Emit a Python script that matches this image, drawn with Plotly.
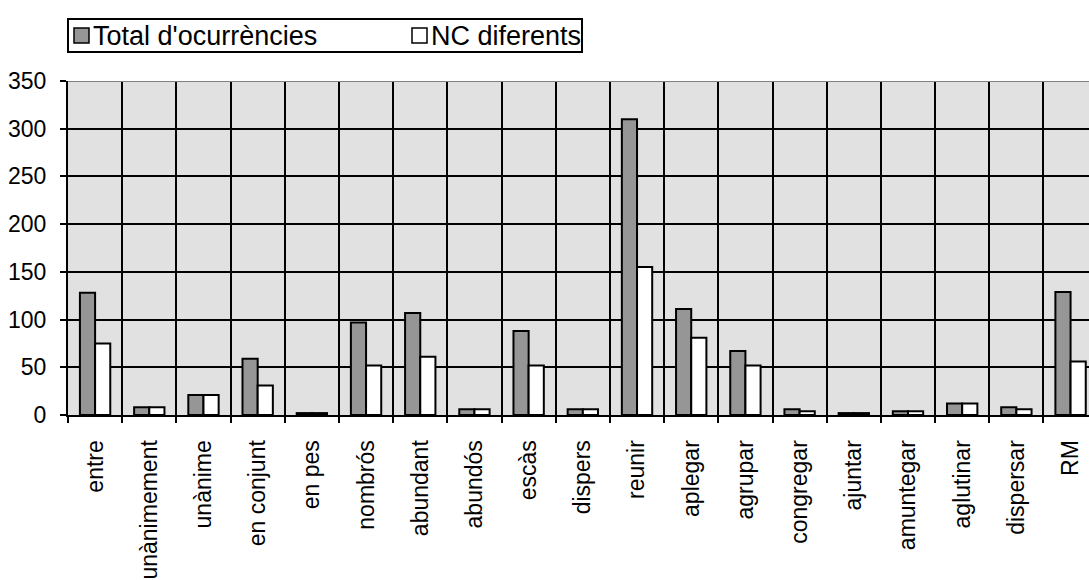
import plotly.graph_objects as go

# Lexical items and their counts
categories = [
    "entre", "unànimement", "unànime", "en conjunt", "en pes", "nombrós",
    "abundant", "abundós", "escàs", "dispers", "reunir", "aplegar",
    "agrupar", "congregar", "ajuntar", "amuntegar", "aglutinar",
    "dispersar", "RM",
]
total_ocurrencies = [128, 8, 21, 59, 2, 97, 107, 6, 88, 6, 310, 111, 67, 6, 2, 4, 12, 8, 129]
nc_diferents = [75, 8, 21, 31, 2, 52, 61, 6, 52, 6, 155, 81, 52, 4, 2, 4, 12, 6, 56]

series_names = ["Total d'ocurrències", "NC diferents"]
series_colors = ["#969696", "white"]
y_ticks = [0, 50, 100, 150, 200, 250, 300, 350]

FONT = "Liberation Sans, Arial, sans-serif"

# figure geometry (pixels)
W, H = 1089, 580
M_L, M_R, M_T, M_B = 68, 0, 81, 165
PLOT_W = W - M_L - M_R
PLOT_H = H - M_T - M_B


def px_x(px):
    return (px - M_L) / PLOT_W


def px_y(py):
    return (H - M_B - py) / PLOT_H


fig = go.Figure()
for name, values, color in zip(series_names, [total_ocurrencies, nc_diferents], series_colors):
    fig.add_trace(go.Bar(
        x=categories, y=values, name=name,
        marker=dict(color=color, line=dict(color="black", width=2)),
        showlegend=False,
    ))

fig.update_layout(
    width=W, height=H,
    margin=dict(l=M_L, r=M_R, t=M_T, b=M_B, pad=0),
    paper_bgcolor="white",
    plot_bgcolor="#e1e1e1",
    barmode="group",
    bargap=0.44,
    bargroupgap=0,
    font=dict(family=FONT, size=23, color="black"),
)

fig.update_xaxes(
    type="category",
    range=[-0.5, 18.34],
    tickson="boundaries",
    showgrid=True, gridcolor="black", gridwidth=2,
    showline=True, linecolor="black", linewidth=2,
    ticks="outside", ticklen=6, tickwidth=2, tickcolor="black",
    tickangle=-90,
    ticklabelstandoff=14,
    tickfont=dict(family=FONT, size=23, color="black"),
)
fig.update_yaxes(
    range=[0, 350],
    tickvals=y_ticks,
    showgrid=True, gridcolor="black", gridwidth=2,
    zeroline=False,
    showline=True, linecolor="black", linewidth=2,
    ticks="outside", ticklen=6, tickwidth=2, tickcolor="black",
    ticklabelstandoff=9,
    tickfont=dict(family=FONT, size=23, color="black"),
)

# grey plot-area border along the top edge
fig.add_shape(
    type="line", xref="paper", yref="y",
    x0=0, x1=1, y0=350, y1=350,
    line=dict(color="#808080", width=2),
)

# legend box drawn above the plot area
fig.add_shape(
    type="rect", xref="paper", yref="paper",
    x0=px_x(68), x1=px_x(582), y0=px_y(52), y1=px_y(19),
    fillcolor="white", line=dict(color="black", width=2),
)
legend_items = [(74, 91), (412, 429)]
for (sq_left, text_left), name, color in zip(legend_items, series_names, series_colors):
    fig.add_shape(
        type="rect", xref="paper", yref="paper",
        x0=px_x(sq_left), x1=px_x(sq_left + 15), y0=px_y(43), y1=px_y(28),
        fillcolor=color, line=dict(color="black", width=1.5),
    )
    fig.add_annotation(
        xref="paper", yref="paper",
        x=px_x(text_left), y=px_y(36),
        xanchor="left", yanchor="middle",
        text=name, showarrow=False,
        font=dict(family=FONT, size=27, color="black"),
    )

fig.write_html("out.html")
